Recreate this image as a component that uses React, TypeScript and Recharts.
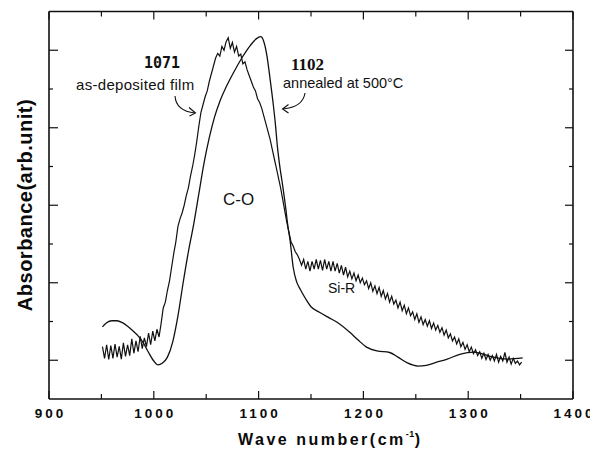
import React from 'react';
import { LineChart, Line, XAxis, YAxis } from 'recharts';

// As-deposited film spectrum (noisy trace), wave number in cm^-1
const asDepositedWave = [
  951, 953, 955, 957, 959, 961, 963, 965, 967, 969, 971, 973, 975, 977, 979, 981, 983, 985, 987, 989,
  991, 993, 995, 997, 999, 1001, 1003, 1005, 1007, 1009, 1011, 1013, 1015, 1017, 1019, 1021, 1023, 1025, 1027, 1029,
  1031, 1033, 1035, 1037, 1039, 1041, 1043, 1045, 1047, 1049, 1051, 1053, 1055, 1057, 1059, 1061, 1063, 1065, 1067, 1069,
  1071, 1073, 1075, 1077, 1079, 1081, 1083, 1085, 1087, 1089, 1091, 1093, 1095, 1097, 1099, 1101, 1103, 1105, 1107, 1109,
  1111, 1113, 1115, 1117, 1119, 1121, 1123, 1125, 1127, 1129, 1131, 1133, 1135, 1137, 1139, 1141, 1143, 1145, 1147, 1149,
  1151, 1153, 1155, 1157, 1159, 1161, 1163, 1165, 1167, 1169, 1171, 1173, 1175, 1177, 1179, 1181, 1183, 1185, 1187, 1189,
  1191, 1193, 1195, 1197, 1199, 1201, 1203, 1205, 1207, 1209, 1211, 1213, 1215, 1217, 1219, 1221, 1223, 1225, 1227, 1229,
  1231, 1233, 1235, 1237, 1239, 1241, 1243, 1245, 1247, 1249, 1251, 1253, 1255, 1257, 1259, 1261, 1263, 1265, 1267, 1269,
  1271, 1273, 1275, 1277, 1279, 1281, 1283, 1285, 1287, 1289, 1291, 1293, 1295, 1297, 1299, 1301, 1303, 1305, 1307, 1309,
  1311, 1313, 1315, 1317, 1319, 1321, 1323, 1325, 1327, 1329, 1331, 1333, 1335, 1337, 1339, 1341, 1343, 1345, 1347, 1349,
  1351,
];
const asDepositedAbs = [
  1.35, 1.05, 1.40, 1.02, 1.38, 1.05, 1.42, 1.08, 1.36, 1.03, 1.45, 1.10, 1.40, 1.12, 1.55, 1.18, 1.50, 1.22, 1.62, 1.30,
  1.58, 1.35, 1.70, 1.40, 1.75, 1.50, 1.80, 1.60, 1.95, 2.35, 2.50, 2.80, 3.05, 3.40, 3.75, 4.05, 4.45, 4.65, 4.80, 5.00,
  5.25, 5.45, 5.75, 6.00, 6.30, 6.65, 7.05, 7.40, 7.60, 7.80, 7.95, 8.20, 8.40, 8.60, 8.80, 8.92, 8.85, 9.10, 9.00, 9.22,
  9.32, 9.05, 9.20, 8.95, 9.10, 8.85, 8.90, 8.65, 8.70, 8.50, 8.35, 8.20, 8.05, 7.95, 7.75, 7.65, 7.50, 7.30, 7.10, 6.90,
  6.70, 6.45, 6.20, 5.95, 5.70, 5.45, 5.15, 4.85, 4.55, 4.30, 4.05, 3.95, 3.80, 3.72, 3.60, 3.45, 3.60, 3.35, 3.55, 3.30,
  3.55, 3.35, 3.60, 3.35, 3.58, 3.32, 3.60, 3.35, 3.55, 3.30, 3.55, 3.30, 3.50, 3.25, 3.45, 3.20, 3.40, 3.15, 3.30, 3.10,
  3.25, 3.05, 3.20, 3.00, 3.12, 2.95, 3.05, 2.85, 3.00, 2.78, 2.92, 2.72, 2.88, 2.65, 2.80, 2.58, 2.72, 2.50, 2.65, 2.45,
  2.55, 2.35, 2.50, 2.28, 2.42, 2.20, 2.35, 2.15, 2.25, 2.05, 2.20, 1.98, 2.12, 1.92, 2.05, 1.88, 2.02, 1.82, 1.96, 1.78,
  1.90, 1.72, 1.84, 1.65, 1.78, 1.58, 1.68, 1.50, 1.60, 1.42, 1.55, 1.35, 1.46, 1.28, 1.40, 1.22, 1.34, 1.17, 1.27, 1.12,
  1.22, 1.05, 1.18, 1.02, 1.15, 1.00, 1.12, 0.98, 1.15, 0.95, 1.10, 0.98, 1.20, 0.95, 1.08, 0.90, 1.05, 0.92, 0.98, 0.88,
  0.95,
];

// Film annealed at 500 °C (smooth trace)
const annealedWave = [
  951, 955, 960, 965, 970, 975, 980, 985, 990, 995, 1000, 1004, 1008, 1013, 1018, 1023, 1028, 1033, 1038, 1043,
  1048, 1053, 1058, 1063, 1069, 1076, 1084, 1092, 1098, 1102, 1105, 1108, 1111, 1114, 1116, 1118, 1120, 1123, 1126, 1128,
  1130, 1133, 1136, 1140, 1145, 1150, 1158, 1167, 1175, 1187, 1195, 1203, 1213, 1225, 1233, 1242, 1252, 1260, 1270, 1280,
  1292, 1305, 1314, 1324, 1337, 1352,
];
const annealedAbs = [
  1.86, 1.97, 2.02, 2.02, 1.97, 1.88, 1.76, 1.63, 1.45, 1.20, 0.98, 0.88, 0.92, 1.08, 1.47, 2.14, 3.00, 3.80, 4.50, 5.30,
  6.10, 6.75, 7.28, 7.68, 8.05, 8.42, 8.80, 9.12, 9.30, 9.35, 9.22, 8.85, 8.25, 7.60, 7.10, 6.50, 6.05, 5.50, 4.90, 4.45,
  4.10, 3.40, 3.05, 2.82, 2.58, 2.38, 2.24, 2.10, 1.98, 1.72, 1.52, 1.34, 1.24, 1.20, 1.08, 0.93, 0.85, 0.87, 0.95, 1.03,
  1.15, 1.21, 1.16, 1.08, 1.03, 1.06,
];

const xTicks = [900, 950, 1000, 1050, 1100, 1150, 1200, 1250, 1300, 1350, 1400];
const xLabelledTicks = [900, 1000, 1100, 1200, 1300, 1400];
const yTicks = [1, 2, 3, 4, 5, 6, 7, 8, 9];
const yMajorTicks = [1, 3, 5, 7, 9];

const asDeposited = asDepositedWave.map((wn, i) => ({ wn, abs: asDepositedAbs[i] }));
const annealed = annealedWave.map((wn, i) => ({ wn, abs: annealedAbs[i] }));

const INK = '#111';
const SANS = '"Liberation Sans", Arial, sans-serif';

function BottomTick(props: any) {
  const { x, y, payload } = props;
  const v = payload.value as number;
  const labelled = xLabelledTicks.includes(v);
  return (
    <g>
      <line x1={x} x2={x} y1={y} y2={y - (labelled ? 8 : 5)} stroke={INK} strokeWidth={1.2} />
      {labelled && (
        <text x={x + 1.5} y={y + 19} textAnchor="middle" fontFamily={SANS} fontSize={13.5} fontWeight="bold" letterSpacing={3} fill="#0a0a0a">
          {v}
        </text>
      )}
    </g>
  );
}

function TopTick(props: any) {
  const { x, y, payload } = props;
  const major = xLabelledTicks.includes(payload.value);
  return <line x1={x} x2={x} y1={y} y2={y + (major ? 8 : 5)} stroke={INK} strokeWidth={1.2} />;
}

function LeftTick(props: any) {
  const { x, y, payload } = props;
  const major = yMajorTicks.includes(payload.value);
  return <line x1={x} x2={x + (major ? 9 : 4)} y1={y} y2={y} stroke={INK} strokeWidth={1.2} />;
}

function RightTick(props: any) {
  const { x, y, payload } = props;
  const major = yMajorTicks.includes(payload.value);
  return <line x1={x} x2={x - (major ? 8 : 4)} y1={y} y2={y} stroke={INK} strokeWidth={1.2} />;
}

const axisLine = { stroke: INK, strokeWidth: 1.6 };

export default function App() {
  return (
    <div style={{ width: 590, height: 442, fontFamily: SANS }}>
      <LineChart width={590} height={442} margin={{ top: 2.5, right: 24, bottom: 50, left: 40 }}>
        <XAxis
          xAxisId="bottom"
          dataKey="wn"
          type="number"
          domain={[900, 1400]}
          ticks={xTicks}
          interval={0}
          height={1}
          tickSize={0}
          tickMargin={0}
          tickLine={false}
          axisLine={axisLine}
          tick={(p: any) => <BottomTick {...p} />}
          allowDataOverflow
        />
        <XAxis
          xAxisId="top"
          orientation="top"
          dataKey="wn"
          type="number"
          domain={[900, 1400]}
          ticks={xTicks}
          interval={0}
          height={1}
          tickSize={0}
          tickMargin={0}
          tickLine={false}
          axisLine={axisLine}
          tick={(p: any) => <TopTick {...p} />}
          allowDataOverflow
        />
        <YAxis
          yAxisId="left"
          type="number"
          domain={[0, 10]}
          ticks={yTicks}
          interval={0}
          width={1}
          tickSize={0}
          tickMargin={0}
          tickLine={false}
          axisLine={axisLine}
          tick={(p: any) => <LeftTick {...p} />}
          allowDataOverflow
        />
        <YAxis
          yAxisId="right"
          orientation="right"
          type="number"
          domain={[0, 10]}
          ticks={yTicks}
          interval={0}
          width={1}
          tickSize={0}
          tickMargin={0}
          tickLine={false}
          axisLine={axisLine}
          tick={(p: any) => <RightTick {...p} />}
          allowDataOverflow
        />
        <Line
          xAxisId="bottom"
          yAxisId="left"
          data={asDeposited}
          dataKey="abs"
          type="linear"
          stroke={INK}
          strokeWidth={1.2}
          dot={false}
          activeDot={false}
          isAnimationActive={false}
        />
        <Line
          xAxisId="top"
          yAxisId="right"
          data={annealed}
          dataKey="abs"
          type="monotone"
          stroke={INK}
          strokeWidth={1.3}
          dot={false}
          activeDot={false}
          isAnimationActive={false}
        />

        {/* axis titles */}
        <text
          x={24}
          y={197}
          transform="rotate(-90, 24, 197)"
          textAnchor="middle"
          fontFamily={SANS}
          fontSize={20}
          fontWeight="bold"
          letterSpacing={0.5}
          fill="#0a0a0a"
        >
          Absorbance(arb.unit)
        </text>
        <text x={230} y={437} fontFamily={SANS} fontSize={16} fontWeight="bold" letterSpacing={2.5} fill="#0a0a0a">
          Wave number(cm
          <tspan fontSize={9} dy={-8} letterSpacing={0.5}>-1</tspan>
          <tspan dy={8}>)</tspan>
        </text>

        {/* peak annotations */}
        <text x={154} y={60} textAnchor="middle" fontFamily='"DejaVu Sans Mono", monospace' fontSize={15} fontWeight="bold" fill={INK}>
          1071
        </text>
        <text x={68} y={82} fontFamily={SANS} fontSize={15} letterSpacing={0.3} fill={INK}>
          as-deposited film
        </text>
        <path d="M 167 88 Q 168 103 187 105" fill="none" stroke={INK} strokeWidth={1.1} />
        <path d="M 181 99.5 L 187.5 105 L 181.5 108" fill="none" stroke={INK} strokeWidth={1.1} />

        <text x={299.5} y={62} textAnchor="middle" fontFamily='"Liberation Serif", "Times New Roman", serif' fontSize={17} fontWeight="bold" fill={INK}>
          1102
        </text>
        <text x={275} y={80} fontFamily={SANS} fontSize={14.5} fill={INK}>
          annealed at 500°C
        </text>
        <path d="M 297 85 Q 295 99 275 101" fill="none" stroke={INK} strokeWidth={1.1} />
        <path d="M 280.5 96.5 L 274.5 101 L 280.5 105" fill="none" stroke={INK} strokeWidth={1.1} />

        <text x={215} y={197} fontFamily={SANS} fontSize={17} fill={INK}>
          C-O
        </text>
        <text x={320} y={285} fontFamily={SANS} fontSize={14} fill={INK}>
          Si-R
        </text>
      </LineChart>
    </div>
  );
}
